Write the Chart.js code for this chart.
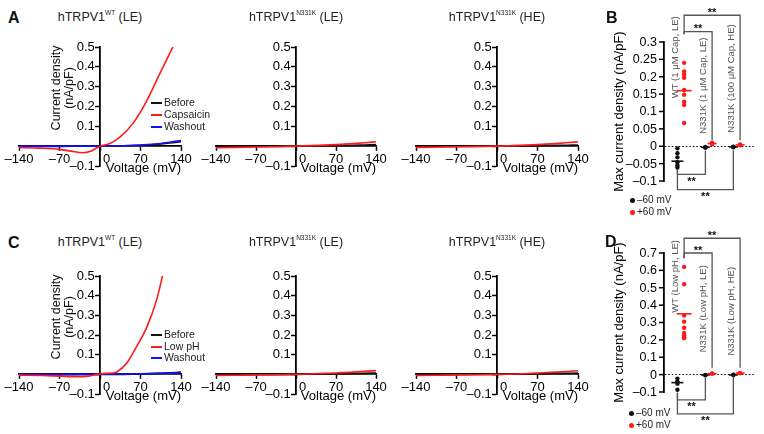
<!DOCTYPE html>
<html>
<head>
<meta charset="utf-8">
<script src="https://cdn.jsdelivr.net/npm/chart.js@4.4.0/dist/chart.umd.min.js"></script>
<style>
  body { margin: 0; background: #fff; width: 764px; height: 434px; position: relative; overflow: hidden;
         font-family: "Liberation Sans", Arial, sans-serif; color: #111; }
  canvas { position: absolute; }
  .t { position: absolute; white-space: nowrap; line-height: 1; }
  .c { transform: translate(-50%, -50%); }
  .sup { font-size: 6.5px; position: relative; top: -6px; }
  .letter { font-weight: bold; font-size: 16px; }
  .lg { font-size: 10.5px; color: #222; }
</style>
</head>
<body>
<script>
// ---- IV traces (voltage in mV, current density in nA/pF) ----
const flatV = [-140, -70, 0, 40, 70, 100, 120, 140];

const capV = [-140, -105, -70, -50, -30, -15, 0, 17, 35, 57, 81, 104, 126];
const capI = [-0.007, -0.010, -0.016, -0.025, -0.033, -0.024, 0.0, 0.013, 0.047, 0.115, 0.23, 0.37, 0.5];
const wtCapBefore = [-0.002, -0.001, 0, 0.002, 0.005, 0.010, 0.016, 0.022];
const wtCapWash = [0.0, 0.0, 0, 0.002, 0.006, 0.012, 0.020, 0.028];
const leCapBefore = [-0.003, -0.002, 0, 0.001, 0.002, 0.004, 0.006, 0.008];
const leCap = [-0.008, -0.004, 0, 0.004, 0.008, 0.013, 0.017, 0.022];
const heCapBefore = [-0.002, -0.001, 0, 0.001, 0.002, 0.004, 0.005, 0.006];
const heCap = [-0.006, -0.003, 0, 0.004, 0.008, 0.013, 0.017, 0.022];

const phV = [-140, -100, -70, -40, -20, 0, 23, 29, 46, 63, 81, 98, 108];
const phI = [-0.004, -0.006, -0.009, -0.012, -0.009, 0.003, 0.007, 0.012, 0.056, 0.14, 0.24, 0.38, 0.5];
const wtPhBefore = [-0.003, -0.002, -0.001, 0.0, 0.002, 0.005, 0.008, 0.011];
const wtPhWash = [0.0, 0.0, 0.001, 0.002, 0.003, 0.005, 0.006, 0.008];
const lePhBefore = [-0.004, -0.002, 0, 0.001, 0.002, 0.004, 0.005, 0.007];
const lePh = [-0.006, -0.003, 0, 0.004, 0.007, 0.011, 0.015, 0.019];
const hePhBefore = [-0.003, -0.002, 0, 0.001, 0.002, 0.004, 0.005, 0.006];
const hePh = [-0.006, -0.003, 0, 0.003, 0.007, 0.011, 0.014, 0.018];

const capLegend = ['Before', 'Capsaicin', 'Washout'];
const phLegend = ['Before', 'Low pH', 'Washout'];
const ivTitles = [['WT', '(LE)'], ['N331K', '(LE)'], ['N331K', '(HE)']];

// ---- max current density per cell (nA/pF) ----
const capGroups = ['WT (1 \u03bcM Cap, LE)', 'N331K (1 \u03bcM Cap, LE)', 'N331K (100 \u03bcM Cap, HE)'];
const capNeg60 = [[-0.006, -0.02, -0.032, -0.046, -0.055, -0.061], [-0.004, -0.002, -0.003], [-0.002, -0.001, -0.003]];
const capPos60 = [[0.24, 0.215, 0.206, 0.197, 0.162, 0.148, 0.128, 0.119, 0.067], [0.006, 0.01, 0.008], [0.003, 0.005, 0.004]];
const capNeg60Mean = [-0.043, -0.003, -0.002];
const capPos60Mean = [0.16, 0.008, 0.004];
const capTicks = [-0.1, -0.05, 0, 0.05, 0.1, 0.15, 0.2, 0.25, 0.3];

const phGroups = ['WT (Low pH, LE)', 'N331K (Low pH, LE)', 'N331K (Low pH, HE)'];
const phNeg60 = [[-0.023, -0.04, -0.046, -0.052, -0.087], [-0.002, -0.003], [-0.002, -0.001]];
const phPos60 = [[0.62, 0.52, 0.34, 0.305, 0.27, 0.24, 0.225, 0.215, 0.21], [0.005, 0.007], [0.008, 0.01]];
const phNeg60Mean = [-0.046, -0.002, -0.002];
const phPos60Mean = [0.35, 0.006, 0.009];
const phTicks = [-0.1, 0, 0.1, 0.2, 0.3, 0.4, 0.5, 0.6, 0.7];

const holdLabels = ['\u201360 mV', '+60 mV'];

Chart.defaults.font.family = '"Liberation Sans", Arial, sans-serif';
Chart.defaults.color = '#000';

const RED = '#ff1a1a', BLUE = '#1010ff', BLACK = '#111';
const dash = '\u2013';
const fmtTick = v => Math.abs(v) < 1e-9 ? '0' : (v < 0 ? dash : '') + parseFloat(Math.abs(v).toFixed(2));

function makeCanvas(left, top, w, h) {
  const c = document.createElement('canvas');
  c.width = w; c.height = h;
  c.style.left = left + 'px'; c.style.top = top + 'px';
  c.style.width = w + 'px'; c.style.height = h + 'px';
  document.body.appendChild(c);
  return c;
}

function text(html, x, y, cls, style) {
  const d = document.createElement('div');
  d.className = 't ' + (cls || '');
  d.innerHTML = html;
  d.style.left = x + 'px'; d.style.top = y + 'px';
  Object.assign(d.style, style || {});
  document.body.appendChild(d);
  return d;
}

function trace(label, v, i, color, order) {
  return { label, data: v.map((x, k) => ({ x, y: i[k] })), borderColor: color, backgroundColor: color,
           showLine: true, pointRadius: 0, borderWidth: 1.6, cubicInterpolationMode: 'monotone', order };
}

function ivChart(area, datasets) {
  const pad = { left: 30, right: 22, top: 20, bottom: 45 };
  const c = makeCanvas(area.l - pad.left, area.t - pad.top,
    area.r - area.l + pad.left + pad.right, area.b - area.t + pad.top + pad.bottom);
  return new Chart(c, {
    type: 'scatter',
    data: { datasets },
    options: {
      responsive: false, animation: false, devicePixelRatio: 1,
      layout: { padding: pad },
      plugins: { legend: { display: false }, tooltip: { enabled: false } },
      scales: {
        x: {
          type: 'linear', min: -140, max: 140, position: { y: 0 },
          ticks: { stepSize: 70, padding: 1, maxRotation: 0, autoSkip: false, font: { size: 13 },
                   callback: v => v === 0 ? '\u2002\u20020' : (v < 0 ? dash + (-v) : '' + v) },
          grid: { drawOnChartArea: false, tickLength: 4, tickColor: '#000', tickWidth: 1.5 },
          border: { color: '#000', width: 1.8 },
          title: { display: true, text: 'Voltage (mV)', align: 'end', padding: { top: -7, bottom: 0 }, font: { size: 13 } }
        },
        y: {
          type: 'linear', min: -0.1, max: 0.5, position: { x: 0 },
          // a centred y axis right-aligns its labels on the axis line, so pad them with thin spaces
          ticks: { stepSize: 0.1, autoSkip: false, font: { size: 13 },
                   callback: v => Math.abs(v) < 1e-9 ? '' : (v < 0 ? dash : '') + Math.abs(v).toFixed(1) + '\u2009\u2009' },
          grid: { drawOnChartArea: false, tickLength: 4, tickColor: '#000', tickWidth: 1.5 },
          border: { color: '#000', width: 1.8 }
        }
      }
    }
  });
}

// brackets, stars, group labels and y ticks for the scatter panels
const groupMarks = {
  id: 'groupMarks',
  afterDatasetsDraw(chart, args, o) {
    const { ctx, scales: { x, y } } = chart;
    const gx = (g, side) => x.getPixelForValue(g + 1 + side * o.offset);
    ctx.save();
    ctx.strokeStyle = '#555';
    ctx.lineWidth = 1.3;
    ctx.fillStyle = '#111';
    ctx.font = 'bold 11px "Liberation Sans", Arial, sans-serif';
    ctx.textAlign = 'center';
    o.brackets.forEach(b => {
      const xa = gx(b.g1, b.side), xb = gx(b.g2, b.side);
      const yl = y.getPixelForValue(b.y);
      ctx.beginPath();
      ctx.moveTo(xa, y.getPixelForValue(b.y1));
      ctx.lineTo(xa, yl);
      ctx.lineTo(xb, yl);
      ctx.lineTo(xb, y.getPixelForValue(b.y2));
      ctx.stroke();
      ctx.textBaseline = b.side > 0 ? 'bottom' : 'top';
      ctx.fillText('**', (xa + xb) / 2, b.side > 0 ? yl + 3 : yl + 2);
    });

    // tick marks and labels from the tick list
    const ax = chart.chartArea.left;
    ctx.strokeStyle = '#000';
    ctx.lineWidth = 1.5;
    ctx.fillStyle = '#000';
    ctx.font = '12.5px "Liberation Sans", Arial, sans-serif';
    ctx.textAlign = 'right';
    ctx.textBaseline = 'middle';
    o.ticks.forEach(v => {
      const py = y.getPixelForValue(v);
      ctx.beginPath();
      ctx.moveTo(ax - 1, py);
      ctx.lineTo(ax - 5, py);
      ctx.stroke();
      ctx.fillText(fmtTick(v), ax - 7, py + 0.5);
    });

    ctx.fillStyle = '#555';
    ctx.font = '9.5px "Liberation Sans", Arial, sans-serif';
    o.labels.forEach((lab, g) => {
      ctx.save();
      ctx.translate(gx(g, 1) - 9, y.getPixelForValue(o.labelTop[g]));
      ctx.rotate(-Math.PI / 2);
      ctx.fillText(lab, 0, 0);
      ctx.restore();
    });
    ctx.restore();
  }
};

function dotChart(box, yOpt, groups, neg, pos, negMean, posMean, brackets, labelTop) {
  const off = 0.12;
  const pts = (arr, side) => arr.flatMap((vals, g) => vals.map(v => ({ x: g + 1 + side * off, y: v })));
  const means = (arr, side) => arr.map((v, g) => ({ x: g + 1 + side * off, y: v }));
  const c = makeCanvas(box.left, box.top, box.w, box.h);
  return new Chart(c, {
    type: 'scatter',
    data: {
      datasets: [
        { label: holdLabels[1] + ' mean', data: means(posMean, 1), pointStyle: 'line', borderColor: RED, borderWidth: 1.6,
          pointRadius: ctx => ctx.dataIndex === 0 ? 7.5 : 4.5, order: 0 },
        { label: holdLabels[0] + ' mean', data: means(negMean, -1), pointStyle: 'line', borderColor: BLACK, borderWidth: 1.6,
          pointRadius: ctx => ctx.dataIndex === 0 ? 6 : 4.5, order: 1 },
        { label: holdLabels[1], data: pts(pos, 1), backgroundColor: RED, borderColor: RED, pointRadius: 2.2, borderWidth: 0, order: 2 },
        { label: holdLabels[0], data: pts(neg, -1), backgroundColor: BLACK, borderColor: BLACK, pointRadius: 2.2, borderWidth: 0, order: 3 }
      ]
    },
    options: {
      responsive: false, animation: false, devicePixelRatio: 1,
      layout: { padding: { left: 0, right: 0, top: box.pt, bottom: box.pb } },
      plugins: {
        legend: { display: false }, tooltip: { enabled: false },
        groupMarks: { offset: off, brackets, labels: groups, labelTop, ticks: yOpt.ticks }
      },
      scales: {
        x: { type: 'linear', min: 0.4, max: 3.65, display: false },
        y: {
          type: 'linear', position: 'left', min: yOpt.min, max: yOpt.max,
          afterFit: s => { s.width = box.axisW; },
          afterBuildTicks: s => { s.ticks = yOpt.ticks.map(value => ({ value })); },
          ticks: { padding: 3, autoSkip: false, font: { size: 13 }, callback: () => '' },
          grid: {
            drawTicks: false, lineWidth: 1,
            color: ctx => ctx.tick && Math.abs(ctx.tick.value) < 1e-9 ? '#000' : 'rgba(0,0,0,0)'
          },
          border: { color: '#000', width: 1.8, dash: ctx => ctx.tick && Math.abs(ctx.tick.value) < 1e-9 ? [1.5, 2] : [] },
          title: { display: true, text: 'Max current density (nA/pF)', font: { size: 13 }, padding: { top: 6, bottom: 0 } }
        }
      }
    },
    plugins: [groupMarks]
  });
}

// ---- row A / C IV plots ----
const cols = [{ l: 19, r: 181 }, { l: 216, r: 376 }, { l: 416, r: 578 }];
const rows = [{ t: 47, b: 166, titleY: 17 }, { t: 276, b: 394, titleY: 242 }];

ivChart({ ...cols[0], ...rows[0] }, [
  trace(capLegend[0], flatV, wtCapBefore, BLACK, 2),
  trace(capLegend[1], capV, capI, RED, 0),
  trace(capLegend[2], flatV, wtCapWash, BLUE, 1)
]);
ivChart({ ...cols[1], ...rows[0] }, [
  trace(capLegend[0], flatV, leCapBefore, BLACK, 1),
  trace(capLegend[1], flatV, leCap, RED, 0)
]);
ivChart({ ...cols[2], ...rows[0] }, [
  trace(capLegend[0], flatV, heCapBefore, BLACK, 1),
  trace(capLegend[1], flatV, heCap, RED, 0)
]);
ivChart({ ...cols[0], ...rows[1] }, [
  trace(phLegend[0], flatV, wtPhBefore, BLACK, 2),
  trace(phLegend[1], phV, phI, RED, 0),
  trace(phLegend[2], flatV, wtPhWash, BLUE, 1)
]);
ivChart({ ...cols[1], ...rows[1] }, [
  trace(phLegend[0], flatV, lePhBefore, BLACK, 1),
  trace(phLegend[1], flatV, lePh, RED, 0)
]);
ivChart({ ...cols[2], ...rows[1] }, [
  trace(phLegend[0], flatV, hePhBefore, BLACK, 1),
  trace(phLegend[1], flatV, hePh, RED, 0)
]);

// ---- B / D scatter panels ----
dotChart({ left: 606, top: 0, w: 158, h: 220, pt: 42, pb: 39, axisW: 58 },
  { min: -0.1, max: 0.3, ticks: capTicks },
  capGroups, capNeg60, capPos60, capNeg60Mean, capPos60Mean,
  [
    { g1: 0, g2: 2, side: 1, y: 0.377, y1: 0.322, y2: 0.017 },
    { g1: 0, g2: 1, side: 1, y: 0.33, y1: 0.322, y2: 0.017 },
    { g1: 0, g2: 1, side: -1, y: -0.081, y1: -0.066, y2: -0.012 },
    { g1: 0, g2: 2, side: -1, y: -0.125, y1: -0.066, y2: -0.012 }
  ],
  [0.374, 0.313, 0.351]);

dotChart({ left: 606, top: 222, w: 158, h: 212, pt: 31, pb: 42, axisW: 58 },
  { min: -0.1, max: 0.7, ticks: phTicks },
  phGroups, phNeg60, phPos60, phNeg60Mean, phPos60Mean,
  [
    { g1: 0, g2: 2, side: 1, y: 0.785, y1: 0.67, y2: 0.04 },
    { g1: 0, g2: 1, side: 1, y: 0.70, y1: 0.67, y2: 0.04 },
    { g1: 0, g2: 1, side: -1, y: -0.145, y1: -0.104, y2: -0.012 },
    { g1: 0, g2: 2, side: -1, y: -0.226, y1: -0.104, y2: -0.012 }
  ],
  [0.775, 0.63, 0.62]);

// ---- text overlays ----
text('A', 8, 10, 'letter');
text('B', 606, 10, 'letter');
text('C', 8, 235, 'letter');
text('D', 605, 234, 'letter');

rows.forEach(rw => {
  ivTitles.forEach((tt, k) => {
    const cx = (cols[k].l + cols[k].r) / 2;
    text('hTRPV1<span class="sup">' + tt[0] + '</span> ' + tt[1], cx, rw.titleY, 'c', { fontSize: '12.5px', color: '#222' });
  });
});

// y-axis titles of the first IV plot in each row
[88, 317].forEach(cy => {
  text('Current density<br>(nA/pF)', 62, cy, '', {
    fontSize: '12.5px', textAlign: 'center', lineHeight: '1.0',
    transform: 'translate(-50%, -50%) rotate(-90deg)'
  });
});

// IV legends
function ivLegend(labels, colors, x, y0, dy) {
  labels.forEach((lab, k) => {
    const y = y0 + k * dy;
    const sw = document.createElement('div');
    Object.assign(sw.style, { position: 'absolute', left: x + 'px', top: (y - 1) + 'px', width: '11px', height: '2.2px', background: colors[k] });
    document.body.appendChild(sw);
    text(lab, x + 13, y - 6, 'lg');
  });
}
ivLegend(capLegend, [BLACK, RED, BLUE], 151, 103, 12);
ivLegend(phLegend, [BLACK, RED, BLUE], 151, 335, 11.5);

// B / D legends
function dotLegend(x, y0) {
  [BLACK, RED].forEach((col, k) => {
    const y = y0 + k * 12.5;
    const d = document.createElement('div');
    Object.assign(d.style, { position: 'absolute', left: (x - 2.5) + 'px', top: (y - 2.5) + 'px', width: '5px', height: '5px', borderRadius: '50%', background: col });
    document.body.appendChild(d);
    text(holdLabels[k], x + 5, y - 5.5, 'lg', { fontSize: '10px' });
  });
}
dotLegend(632, 200);
dotLegend(631, 413);
</script>
</body>
</html>
